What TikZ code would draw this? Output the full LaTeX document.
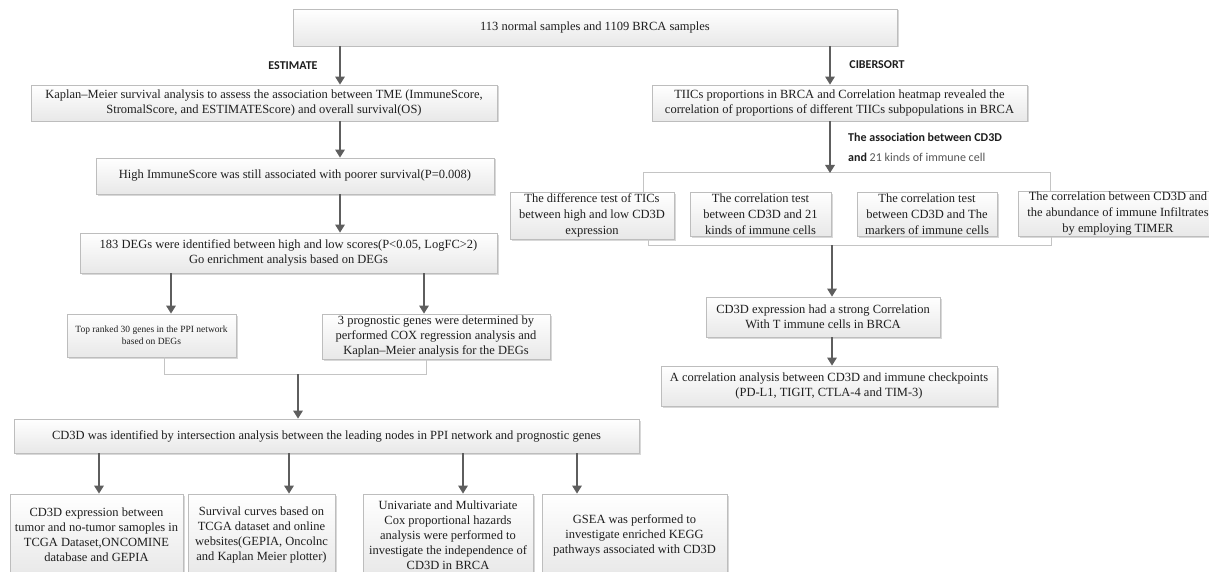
\documentclass[tikz,border=0pt]{standalone}
\usepackage{fontspec}
\setmainfont{Liberation Serif}
\newfontfamily\calibrifont{Carlito}
\usetikzlibrary{arrows.meta,shadows}
\definecolor{boxline}{HTML}{BDBDBD}
\definecolor{arrowgray}{HTML}{5E5E5E}
\definecolor{brackgray}{HTML}{C4C4C4}
\definecolor{txt}{HTML}{1E1E1E}
\definecolor{boxbot}{HTML}{E8E8E8}
\definecolor{lightlbl}{HTML}{555555}
\begin{document}
\begin{tikzpicture}[x=1pt,y=-1pt,
  box/.style={draw=boxline, line width=0.8pt, top color=white, bottom color=boxbot,
    drop shadow={shadow xshift=1.5pt, shadow yshift=-1.5pt, fill=black!30, opacity=0.5},
    inner sep=1pt, align=center, text=txt, font=\fontsize{12.5}{15}\selectfont},
  rbox/.style={box, font=\fontsize{12.5}{16}\selectfont, inner sep=0.5pt},
  arr/.style={draw=arrowgray, line width=1.6pt, -{Triangle[length=8pt,width=9.5pt]}},
  brk/.style={draw=brackgray, line width=1pt},
  lbl/.style={text=txt, font=\calibrifont\bfseries\fontsize{12}{14}\selectfont, inner sep=0pt}]
\fill[white] (0,0) rectangle (1209,572);
\useasboundingbox (0,0) rectangle (1209,572);
\clip (0,0) rectangle (1209,572);

% left column
\node[box, minimum width=604pt, minimum height=37pt] (top) at (595,27.5) {113 normal samples and 1109 BRCA samples};
\node[box, minimum width=466pt, minimum height=36pt] (km) at (264,103) {Kaplan–Meier survival analysis to assess the association between TME (ImmuneScore,\\ StromalScore, and ESTIMATEScore) and overall survival(OS)};
\node[box, minimum width=398pt, minimum height=36pt] (high) at (295,176) {High ImmuneScore was still associated with poorer survival(P=0.008)};
\node[box, minimum width=417pt, minimum height=40pt] (degs) at (288.5,253) {183 DEGs were identified between high and low scores(P<0.05, LogFC>2)\\ Go enrichment analysis based on DEGs};
\node[box, font=\fontsize{9.5}{12}\selectfont, minimum width=169pt, minimum height=43pt] (top30) at (151.5,335.5) {Top ranked 30 genes in the PPI network\\ based on DEGs};
\node[box, minimum width=228pt, minimum height=45pt] (prog) at (436,336.5) {3 prognostic genes were determined by\\ performed COX regression analysis and\\ Kaplan–Meier analysis for the DEGs};
\node[box, minimum width=625pt, minimum height=34pt] (cdid) at (326.5,436) {CD3D was identified by intersection analysis between the leading nodes in PPI network and prognostic genes};
\node[box, minimum width=173pt, minimum height=82pt] (b1) at (96.5,535) {CD3D expression between\\ tumor and no-tumor samoples in\\ TCGA Dataset,ONCOMINE\\ database and GEPIA};
\node[box, minimum width=147pt, minimum height=82pt] (b2) at (261.5,535) {Survival curves based on\\ TCGA dataset and online\\ websites(GEPIA, Oncolnc\\ and Kaplan Meier plotter)};
\node[box, minimum width=170pt, minimum height=82pt] (b3) at (448,535) {Univariate and Multivariate\\ Cox proportional hazards\\ analysis were performed to\\ investigate the independence of\\ CD3D in BRCA};
\node[box, minimum width=185pt, minimum height=82pt] (b4) at (634.5,535) {GSEA was performed to\\ investigate enriched KEGG\\ pathways associated with CD3D};

% right column
\node[box, minimum width=375pt, minimum height=36pt] (tiics) at (839.5,103) {TIICs proportions in BRCA and Correlation heatmap revealed the\\ correlation of proportions of different TIICs subpopulations in BRCA};
\node[rbox, minimum width=164pt, minimum height=47pt] (r1) at (592,215.5) {The difference test of TICs\\ between high and low CD3D\\ expression};
\node[rbox, minimum width=141pt, minimum height=44pt] (r2) at (760.5,214) {The correlation test\\ between CD3D and 21\\ kinds of immune cells};
\node[rbox, minimum width=140pt, minimum height=44pt] (r3) at (927,214) {The correlation test\\ between CD3D and The\\ markers of immune cells};
\node[rbox, minimum width=200pt, minimum height=44pt] (r4) at (1118,214) {The correlation between CD3D and\\ the abundance of immune Infiltrates\\ by employing TIMER};
\node[box, minimum width=234pt, minimum height=40pt] (cdexp) at (823,317) {CD3D expression had a strong Correlation\\ With T immune cells in BRCA};
\node[box, minimum width=336pt, minimum height=40pt] (acorr) at (829,386) {A correlation analysis between CD3D and immune checkpoints\\ (PD-L1, TIGIT, CTLA-4 and TIM-3)};

% labels
\node[lbl] (est) at (293,66) {ESTIMATE};
\node[lbl] (cib) at (877,65) {CIBERSORT};
\node[lbl, anchor=west, align=left, font=\calibrifont\bfseries\fontsize{12}{20}\selectfont] (assoc) at (848,147) {The association between CD3D\\ and {\mdseries\color{lightlbl}21 kinds of immune cell}};

% connector x positions
\coordinate (xe) at (340,0);
\coordinate (xl) at (171,0);
\coordinate (xr) at (424,0);
\coordinate (xc) at (830,0);
\coordinate (lbL) at (164,374);
\coordinate (lbR) at (426,374);
\coordinate (lbM) at (298,374);
\coordinate (d1) at (99,0);
\coordinate (d2) at (289,0);
\coordinate (d3) at (463,0);
\coordinate (d4) at (577,0);
\coordinate (tbL) at (643,173);
\coordinate (tbR) at (1050,173);
\coordinate (tbM) at (830,173);
\coordinate (bbL) at (648,245);
\coordinate (bbR) at (1051,245);
\coordinate (bbM) at (832,245);

% left connectors
\draw[arr] (top.south -| xe) -- (km.north -| xe);
\draw[arr] (km.south -| xe) -- (high.north -| xe);
\draw[arr] (high.south -| xe) -- (degs.north -| xe);
\draw[arr] (degs.south -| xl) -- (top30.north -| xl);
\draw[arr] (degs.south -| xr) -- (prog.north -| xr);
\draw[brk] (top30.south -| lbL) -- (lbL) -- (lbR) -- (prog.south -| lbR);
\draw[arr] (lbM) -- (cdid.north -| lbM);
\draw[arr] (cdid.south -| d1) -- (b1.north -| d1);
\draw[arr] (cdid.south -| d2) -- (b2.north -| d2);
\draw[arr] (cdid.south -| d3) -- (b3.north -| d3);
\draw[arr] (cdid.south -| d4) -- (b4.north -| d4);

% right connectors
\draw[arr] (top.south -| xc) -- (tiics.north -| xc);
\draw[brk] (r1.north -| tbL) -- (tbL) -- (tbR) -- (r4.north -| tbR);
\draw[arr] (tiics.south -| tbM) -- (tbM);
\draw[brk] (r1.south -| bbL) -- (bbL) -- (bbR) -- (r4.south -| bbR);
\draw[arr] (bbM) -- (cdexp.north -| bbM);
\draw[arr] (cdexp.south -| bbM) -- (acorr.north -| bbM);
\end{tikzpicture}
\end{document}
